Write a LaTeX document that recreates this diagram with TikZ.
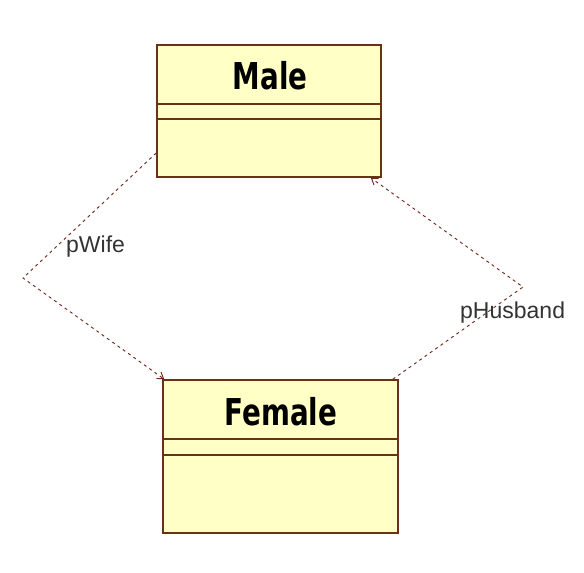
\documentclass[tikz,border=0pt]{standalone}
\usepackage{fontspec}
\setmainfont{Liberation Sans}
\newfontfamily\titlefont{DejaVu Sans}
\usetikzlibrary{arrows.meta,positioning}

\definecolor{classfill}{RGB}{255,255,198}
\definecolor{classline}{RGB}{105,50,22}
\definecolor{assocline}{RGB}{110,35,25}

\tikzset{
  umlclass/.style={draw=classline,fill=classfill,line width=1.6pt,rectangle,inner sep=0pt},
  classname/.style={font=\titlefont\fontsize{37}{40}\selectfont\bfseries,xscale=0.75,inner sep=0pt},
  rolename/.style={font=\fontsize{23}{26}\selectfont,text=black!80,inner sep=0pt},
  assoc/.style={draw=assocline,line width=0.9pt,dash pattern=on 3pt off 3.5pt,-{Straight Barb[length=6pt,width=8pt]}}
}

\begin{document}
\begin{tikzpicture}[x=1pt,y=-1pt]
\useasboundingbox (0,0) rectangle (584,573);

% classes
\node[umlclass,minimum width=224pt,minimum height=132pt] (male) at (269,111) {};
\node[classname] (maleName) at (270,76) {Male};
\draw[classline,line width=1.6pt] ([yshift=-60pt]male.north west) -- ([yshift=-60pt]male.north east);
\draw[classline,line width=1.6pt] ([yshift=-75pt]male.north west) -- ([yshift=-75pt]male.north east);

\node[umlclass,minimum width=235pt,minimum height=153pt] (female) at (280.5,456.5) {};
\node[classname] (femaleName) at (281,412) {Female};
\draw[classline,line width=1.6pt] ([yshift=-60pt]female.north west) -- ([yshift=-60pt]female.north east);
\draw[classline,line width=1.6pt] ([yshift=-76pt]female.north west) -- ([yshift=-76pt]female.north east);

% associations
\coordinate (wifeBend) at (23,278);
\coordinate (husbandBend) at (523,287);
\draw[assoc] ([yshift=-42pt]male.west) -- (wifeBend) -- ([xshift=2pt]female.north west);
\draw[assoc] ([xshift=-6pt]female.north east) -- (husbandBend) -- ([xshift=-11pt]male.south east);

\node[rolename,anchor=base west] (wifeLabel) at (66,252) {pWife};
\node[rolename,anchor=base west] (husbandLabel) at (460,318) {pHusband};
\end{tikzpicture}
\end{document}
